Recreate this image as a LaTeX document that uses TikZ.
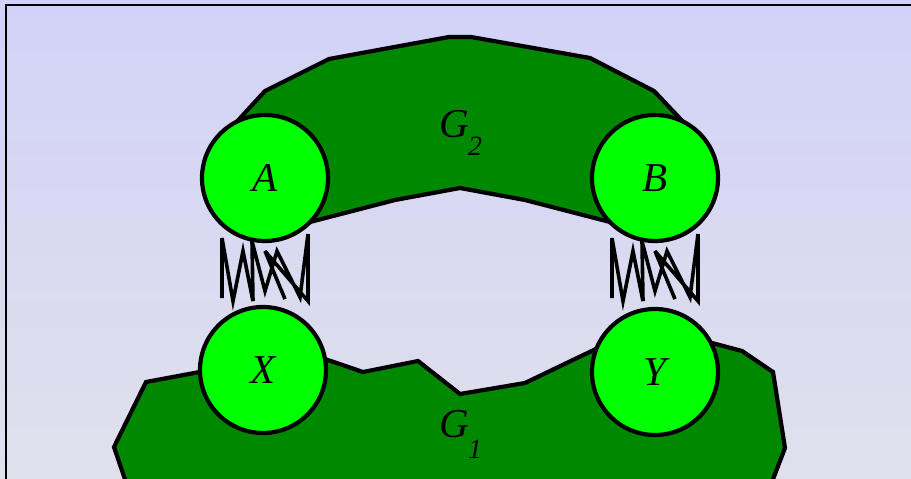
\documentclass[tikz,border=0pt]{standalone}
\usepackage{fontspec}
\setmainfont{Liberation Serif}
\usepackage{tikz}
\definecolor{FondoArriba}{HTML}{D2D2F8}
\definecolor{FondoAbajo}{HTML}{E0E0EC}
\definecolor{VerdeOscuro}{HTML}{008800}
\definecolor{Lima}{HTML}{00FF00}

\begin{document}
\begin{tikzpicture}[
  x=1pt,y=-1pt,
  every node/.style={font=\fontsize{41}{45}\selectfont\itshape},
  vertex/.style={circle,draw=black,fill=Lima,line width=4.2pt,minimum size=126pt,inner sep=0pt},
  region/.style={draw=black,fill=VerdeOscuro,line width=4.2pt,line join=miter},
  spring/.style={draw=black,line width=3.6pt,line join=miter,miter limit=6}
]
  \useasboundingbox (0,0) rectangle (911,479);
  \shade[top color=FondoArriba,bottom color=FondoAbajo] (0,0) rectangle (911,479);
  \draw[line width=2pt] (6,520) -- (6,5) -- (950,5);

  % Las dos regiones verdes.
  \draw[region]
    (265,178) -- (232,127) -- (265,91) -- (329,59) -- (449,37) -- (471,37)
    -- (590,58) -- (654,91) -- (688,127) -- (655,178) -- (610,222)
    -- (525,200) -- (460,188) -- (395,200) -- (310,222) -- cycle;
  \draw[region]
    (263,370) -- (205,371) -- (146,382) -- (114,447) -- (132,500)
    -- (765,500) -- (785,448) -- (773,372) -- (742,351) -- (712,343)
    -- (655,372) -- (600,347) -- (525,383) -- (460,394) -- (418,361)
    -- (363,372) -- (322,358) -- cycle;
  \node[anchor=base west] (g2) at (436,137)
    {G\kern-1pt\raisebox{-18pt}{\fontsize{28}{28}\selectfont 2}};
  \node[anchor=base west] (g1) at (436,437)
    {G\kern-1pt\raisebox{-21pt}{\fontsize{28}{28}\selectfont 1}};

  % Vertices.
  \node[vertex] (A) at (265,178) {A};
  \node[vertex] (B) at (655,178) {B};
  \node[vertex] (X) at (263,370) {X};
  \node[vertex] (Y) at (655,372) {Y};

  % Resortes entre los vertices.
  \foreach \n in {A,B}
    \draw[spring,shift={(\n.south)}]
      (-43,55) -- (-43,-5) -- (-32,58) -- (-22,8) -- (-12,58) -- (-13,-2)
      -- (0,48) -- (12,8) -- (35,54) -- (43,-9) -- (43,58) -- (0,8) -- (20,56);
\end{tikzpicture}
\end{document}
